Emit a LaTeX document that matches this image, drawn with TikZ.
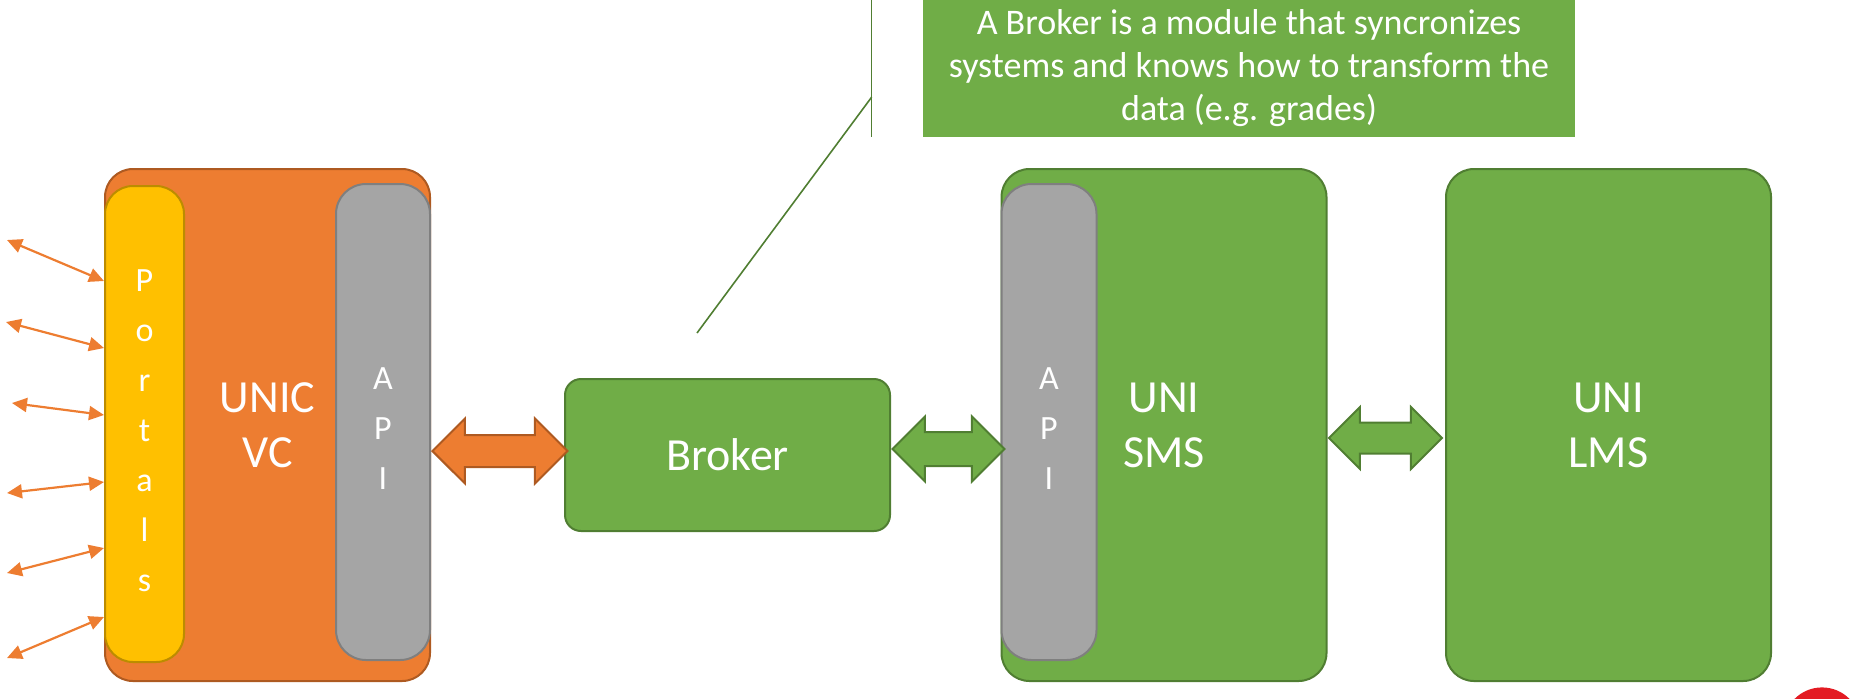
\documentclass[tikz,border=0pt]{standalone}
\usepackage{fontspec}
\setmainfont{Carlito}
\usepackage{tikz}
\usetikzlibrary{arrows.meta,calc,positioning,shapes.arrows}

\definecolor{uniorange}{HTML}{ED7D31}
\definecolor{uniorangeline}{HTML}{AE5A21}
\definecolor{unigreen}{HTML}{70AD47}
\definecolor{unigreenline}{HTML}{507E32}
\definecolor{unigray}{HTML}{A5A5A5}
\definecolor{unigrayline}{HTML}{7F7F7F}
\definecolor{uniyellow}{HTML}{FFC000}
\definecolor{uniyellowline}{HTML}{BC8C00}
\definecolor{logored}{HTML}{E31B23}

\tikzset{
  sysbox/.style={rectangle, rounded corners=14pt, line width=1pt, inner sep=0pt,
    minimum width=162.5pt, minimum height=256pt, text=white, align=center,
    font=\fontsize{23}{27.5}\selectfont},
  orangebox/.style={sysbox, fill=uniorange, draw=uniorangeline},
  greenbox/.style={sysbox, fill=unigreen, draw=unigreenline},
  stripbox/.style={rectangle, rounded corners=15pt, line width=1pt, inner sep=0pt,
    minimum height=238pt},
  striptext/.style={text=white, align=center, font=\fontsize{17}{25}\selectfont, yshift=-3.25pt},
  apibox/.style={stripbox, minimum width=47pt, fill=unigray, draw=unigrayline},
  portalbox/.style={stripbox, rounded corners=14pt, minimum width=39.5pt,
    fill=uniyellow, draw=uniyellowline},
  linkarrow/.style={double arrow, double arrow head extend=8.25pt, inner xsep=0pt,
    inner ysep=7.5pt, line width=1pt},
  orangelink/.style={linkarrow, fill=uniorange, draw=uniorangeline},
  greenlink/.style={linkarrow, fill=unigreen, draw=unigreenline},
  portarrow/.style={{Triangle[length=7.5pt,width=7pt]}-{Triangle[length=7.5pt,width=7pt]},
    draw=uniorange, line width=1.1pt},
  calloutline/.style={draw=unigreenline, line width=0.8pt}
}

\begin{document}
\begin{tikzpicture}[x=0.5pt,y=-0.5pt]
\clip (0,0) rectangle (1855,698);

% systems
\node[orangebox] (unic) at (267.5,425) {UNIC\\VC};
\node[portalbox, anchor=north west, label={[striptext]center:{P\\o\\r\\t\\a\\l\\s}}] (portals) at ([yshift=-8.5pt]unic.north west) {};
\node[apibox, anchor=north east, label={[striptext]center:{A\\P\\I}}] (apiL) at ([yshift=-7.5pt]unic.north east) {};
\node[greenbox, rounded corners=8pt, minimum height=76pt] (broker) at (727.5,455) {Broker};
\node[greenbox] (sms) at (1164,425) {UNI\\SMS};
\node[apibox, minimum width=47.5pt, anchor=north west, label={[striptext]center:{A\\P\\I}}] (apiR) at ([yshift=-7.5pt]sms.north west) {};
\node[greenbox] (lms) at (1608.5,425) {UNI\\LMS};

% links
\node[orangelink, minimum height=67.5pt, anchor=west] (linkA) at ([yshift=2pt]broker.west -| apiL.east) {};
\node[greenlink, minimum height=56pt, inner ysep=8pt, double arrow head extend=7.75pt, anchor=west] (linkB) at ([yshift=3pt]broker.east) {};
\node[greenlink, minimum height=56.5pt, inner ysep=7.25pt, double arrow head extend=7.75pt, anchor=west] (linkC) at ([yshift=-6.5pt]sms.east) {};

% portal users
\foreach \xa/\ya/\yb [count=\i] in {7/240/281, 6/322/348, 12/403/415, 7/493/482, 7/573/548, 7/658/617}{
  \coordinate (ext\i) at (\xa,\ya);
  \draw[portarrow] (ext\i) -- (portals.west |- 0,\yb);
}

% callout
\node[fill=unigreen, minimum width=326pt, minimum height=68.5pt, inner sep=0pt, text=white,
  align=center, font=\fontsize{18}{21.5}\selectfont] (callout) at (1249,68.5)
  {A Broker is a module that syncronizes\\systems and knows how to transform the\\data (e.g. grades)};
\coordinate (calltop) at ([xshift=-25.5pt]callout.north west);
\coordinate (callbot) at ([xshift=-25.5pt]callout.south west);
\coordinate (callknee) at ($(calltop)!0.708!(callbot)$);
\coordinate (calltip) at (697,333);
\draw[calloutline] (calltop) -- (callbot);
\draw[calloutline] (callknee) -- (calltip);

% logo corner
\fill[logored] (1822,726) circle (19.3pt);
\end{tikzpicture}
\end{document}
